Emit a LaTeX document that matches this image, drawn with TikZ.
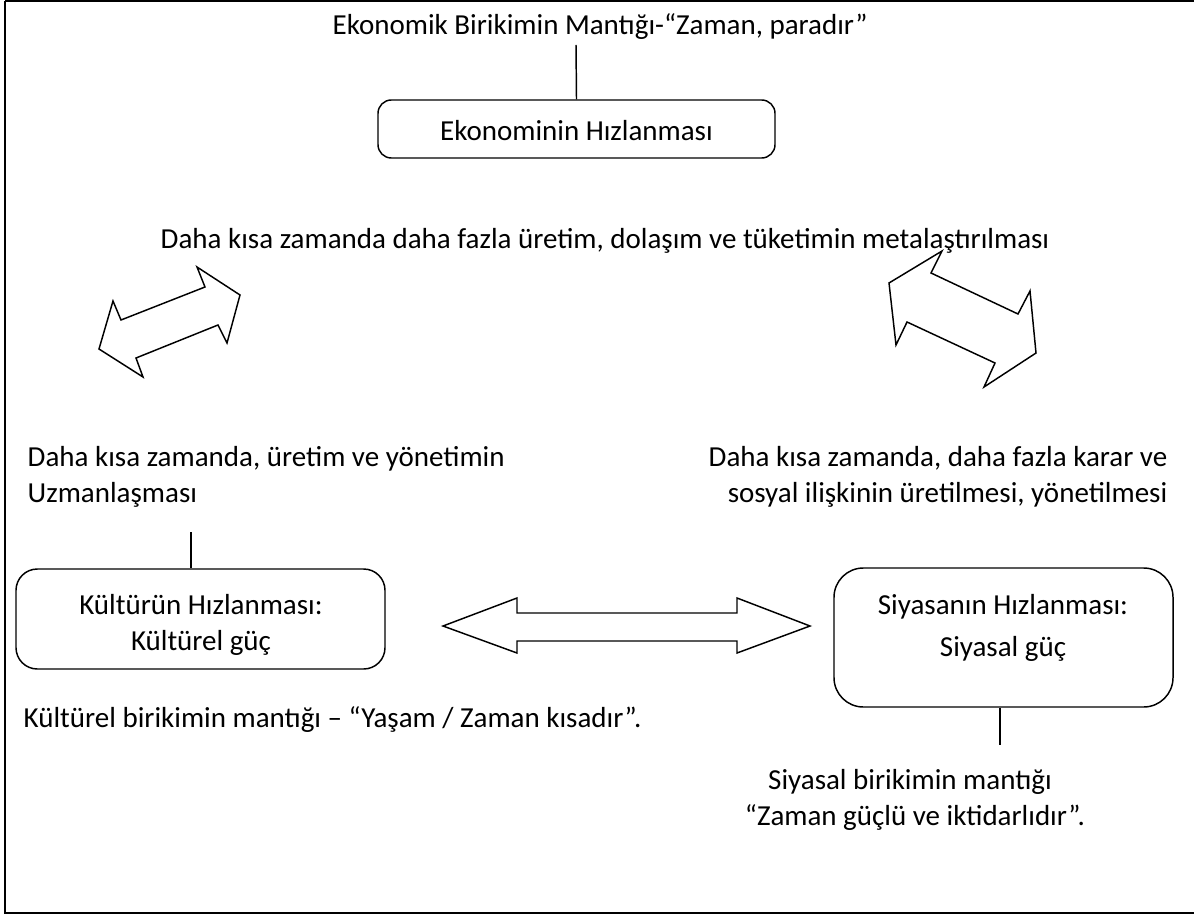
\documentclass[tikz,border=0pt]{standalone}
\usepackage{fontspec}
\setmainfont{Carlito}
\begin{document}
\begin{tikzpicture}[x=0.75pt,y=-0.75pt,line width=1.1pt,
  txt/.style={inner sep=0pt,font=\fontsize{21.75}{27}\selectfont},
  rbox/.style={draw,line width=1.1pt,inner sep=0pt},
  bigarrow/.style={draw,line width=1.1pt,line join=miter,fill=white}]
\useasboundingbox (0,0) rectangle (1194,916);
% frame
\draw[line width=1.6pt] (5,1) -- (1200,1);
\draw[line width=1.6pt] (5,1) -- (5,913) -- (1200,913);
% top
\node[txt,anchor=base west] (title) at (332,35) {Ekonomik Birikimin Mantığı-“Zaman, paradır”};
\node[rbox,rounded corners=10pt,minimum width=297.75pt,minimum height=43.5pt] (eko) at (576.5,129) {};
\node[txt,anchor=base] (ekot) at (576.5,141) {Ekonominin Hızlanması};
\coordinate (t1) at (576,45);
\draw (t1) -- (eko.north);
\node[txt,anchor=base west] (mid) at (160,248) {Daha kısa zamanda daha fazla üretim, dolaşım ve tüketimin metalaştırılması};
% left diagonal arrow
\draw[bigarrow] (240,295) -- (197,267) -- (205,287) -- (121,320) -- (113,301) -- (99,349) -- (143,377) -- (136,358) -- (218,325) -- (227,343) -- cycle;
% right diagonal arrow
\draw[bigarrow] (942,251) -- (889,283) -- (896,345) -- (907,322) -- (995,363) -- (984,387) -- (1036,353) -- (1030,291) -- (1018,314) -- (931,273) -- cycle;
% side texts
\node[txt,anchor=base west] (l1) at (27,466) {Daha kısa zamanda, üretim ve yönetimin};
\node[txt,anchor=base west] (l2) at (27,502) {Uzmanlaşması};
\node[txt,anchor=base east] (r1) at (1168,466) {Daha kısa zamanda, daha fazla karar ve};
\node[txt,anchor=base east] (r2) at (1168,502) {sosyal ilişkinin üretilmesi, yönetilmesi};
% culture box
\node[rbox,rounded corners=16pt,minimum width=276.75pt,minimum height=75pt] (kul) at (200.5,619) {};
\node[txt,anchor=base] (kul1) at (201,614) {Kültürün Hızlanması:};
\node[txt,anchor=base] (kul2) at (201,650) {Kültürel güç};
\coordinate (c1) at (191,532);
\draw (c1) -- (c1 |- kul.north);
% horizontal arrow
\draw[bigarrow] (443,626) -- (517,598) -- (517,613) -- (737,613) -- (737,598) -- (810,626) -- (737,653) -- (737,641) -- (517,641) -- (517,653) -- cycle;
% politics box
\node[rbox,rounded corners=22pt,minimum width=254.25pt,minimum height=104.25pt] (sy) at (1003.5,637.5) {};
\node[txt,anchor=base] (sy1) at (1003,614) {Siyasanın Hızlanması:};
\node[txt,anchor=base] (sy2) at (1003,656) {Siyasal güç};
\coordinate (c2) at (1000,745);
\draw (c2 |- sy.south) -- (c2);
% bottom texts
\node[txt,anchor=base west] (kb) at (23,727) {Kültürel birikimin mantığı – “Yaşam / Zaman kısadır”.};
\node[txt,anchor=base] (sb1) at (910,789) {Siyasal birikimin mantığı};
\node[txt,anchor=base] (sb2) at (915,825) {“Zaman güçlü ve iktidarlıdır”.};
\end{tikzpicture}
\end{document}
